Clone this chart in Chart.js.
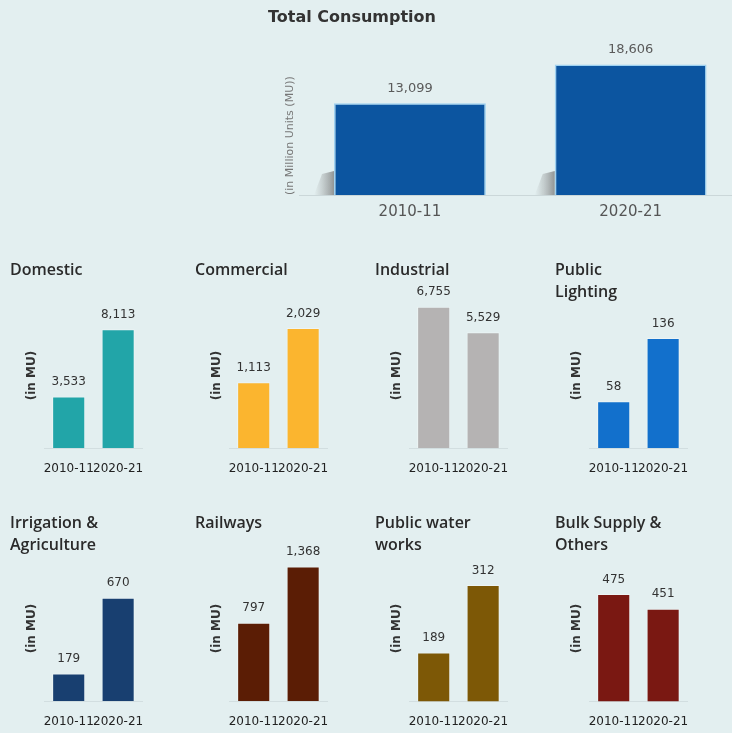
<!DOCTYPE html>
<html>
<head>
<meta charset="utf-8">
<script src="https://cdn.jsdelivr.net/npm/chart.js@4.4.0/dist/chart.umd.min.js"></script>
<style>
  html, body { margin: 0; padding: 0; }
  body { width: 732px; height: 733px; overflow: hidden; background: #e3eff0; position: relative; }
  canvas { position: absolute; }
</style>
</head>
<body>
<script>
// --- chart data ---
const years = ['2010-11', '2020-21'];
const totalValues = [13099, 18606];

const sectorNames = [
  ['Domestic'], ['Commercial'], ['Industrial'], ['Public', 'Lighting'],
  ['Irrigation &', 'Agriculture'], ['Railways'], ['Public water', 'works'], ['Bulk Supply &', 'Others']
];
const values2010 = [3533, 1113, 6755, 58, 179, 797, 189, 475];
const values2021 = [8113, 2029, 5529, 136, 670, 1368, 312, 451];

// y axis ranges of each small chart (the last two do not start at zero)
const axisMin = [0, 0, 0, 0, 0, 0, 100, 300];
const axisMax = [9900, 2450, 6930, 179, 940, 1475, 365, 537];
// --- end data ---

const sectorColors = ['#22a5a8', '#fbb52f', '#b5b3b3', '#1270cc', '#183f70', '#5b1d05', '#7d5806', '#7a1812'];
const colLeft = [43.5, 228.5, 409, 589];
const rowTop = [259, 512];

Chart.defaults.font.family = "'DejaVu Sans', sans-serif";
Chart.defaults.color = '#333';

// numbers over the bars
const valueLabels = {
  id: 'valueLabels',
  afterDatasetsDraw(chart, args, opts) {
    const ctx = chart.ctx;
    const ds = chart.data.datasets[0];
    ctx.save();
    ctx.font = opts.font;
    ctx.fillStyle = opts.color;
    ctx.textAlign = 'center';
    ctx.textBaseline = 'middle';
    chart.getDatasetMeta(0).data.forEach((bar, i) => {
      ctx.fillText(ds.data[i].toLocaleString('en-US'), bar.x, bar.y - opts.offset);
    });
    ctx.restore();
  }
};

// little grey shadow at the foot of the big bars
const barShadow = {
  id: 'barShadow',
  beforeDatasetsDraw(chart) {
    const ctx = chart.ctx;
    chart.getDatasetMeta(0).data.forEach(bar => {
      const left = bar.x - bar.width / 2;
      const base = bar.base;
      const g = ctx.createLinearGradient(left - 20, 0, left, 0);
      g.addColorStop(0, 'rgba(150,150,150,0)');
      g.addColorStop(1, 'rgba(110,110,110,0.7)');
      ctx.save();
      ctx.fillStyle = g;
      ctx.beginPath();
      ctx.moveTo(left, base - 24);
      ctx.lineTo(left - 12, base - 21);
      ctx.lineTo(left - 20, base);
      ctx.lineTo(left, base);
      ctx.closePath();
      ctx.fill();
      ctx.restore();
    });
  }
};

function makeCanvas(x, y, w, h) {
  const c = document.createElement('canvas');
  c.width = w; c.height = h;
  c.style.left = x + 'px';
  c.style.top = y + 'px';
  c.style.width = w + 'px';
  c.style.height = h + 'px';
  document.body.appendChild(c);
  return c;
}

// 1. Total consumption
new Chart(makeCanvas(268, 0, 473, 233), {
  type: 'bar',
  data: {
    labels: years,
    datasets: [{
      data: totalValues,
      backgroundColor: '#0c55a0',
      borderColor: 'rgba(150,205,240,0.9)',
      borderWidth: 1.5,
      categoryPercentage: 1,
      barPercentage: 0.688
    }]
  },
  options: {
    responsive: false,
    animation: false,
    layout: { padding: { left: 0, right: 0, top: 0, bottom: 4 } },
    plugins: {
      legend: { display: false },
      tooltip: { enabled: false },
      title: {
        display: true,
        text: 'Total Consumption',
        align: 'start',
        color: '#333',
        font: { size: 16, weight: 'bold' },
        padding: { top: 8.4, bottom: 12.4 }
      },
      valueLabels: { font: "13px 'DejaVu Sans'", color: '#5a5a5a', offset: 15 }
    },
    scales: {
      x: {
        grid: { display: false, drawTicks: false },
        border: { display: true, color: 'rgba(200,212,214,0.9)' },
        ticks: { color: '#555', font: { size: 15 }, padding: 8, maxRotation: 0, autoSkip: false }
      },
      y: {
        min: 0,
        max: 22100,
        grid: { display: false, drawTicks: false },
        border: { display: false },
        ticks: { display: false },
        title: {
          display: true,
          text: '(in Million Units (MU))',
          align: 'start',
          color: '#777',
          font: { size: 11 },
          padding: { top: 15.4, bottom: 3 }
        }
      }
    }
  },
  plugins: [barShadow, valueLabels]
});

// 2. Eight small sector charts
sectorNames.forEach((name, i) => {
  const L = colLeft[i % 4];
  const T = rowTop[Math.floor(i / 4)];
  new Chart(makeCanvas(L - 34, T, 150, 234), {
    type: 'bar',
    data: {
      labels: years,
      datasets: [{
        data: [values2010[i], values2021[i]],
        backgroundColor: sectorColors[i],
        borderColor: 'rgba(255,255,255,0.35)',
        borderWidth: 1,
        categoryPercentage: 1,
        barPercentage: 0.67
      }]
    },
    options: {
      responsive: false,
      animation: false,
      layout: { padding: { left: 0, right: 12, top: 0, bottom: 2.8 } },
      plugins: {
        legend: { display: false },
        tooltip: { enabled: false },
        title: {
          display: true,
          text: name,
          align: 'start',
          color: '#2a2a2a',
          font: { family: "'Open Sans', sans-serif", size: 16, weight: '600', lineHeight: '22px' },
          padding: { top: 0, bottom: name.length === 1 ? 22 : 0 }
        },
        valueLabels: { font: "12px 'DejaVu Sans'", color: '#333', offset: 14.5 }
      },
      scales: {
        x: {
          grid: { display: false, drawTicks: false },
          border: { display: true, color: 'rgba(205,218,220,0.8)' },
          ticks: { color: '#222', font: { size: 12 }, padding: 13.8, maxRotation: 0, minRotation: 0, autoSkip: false }
        },
        y: {
          min: axisMin[i],
          max: axisMax[i],
          grid: { display: false, drawTicks: false },
          border: { display: false },
          ticks: { display: false },
          title: {
            display: true,
            text: '(in MU)',
            color: '#333',
            font: { size: 12, weight: 'bold' },
            padding: { top: 14.8, bottom: 4.8 }
          }
        }
      }
    },
    plugins: [valueLabels]
  });
});
</script>
</body>
</html>
